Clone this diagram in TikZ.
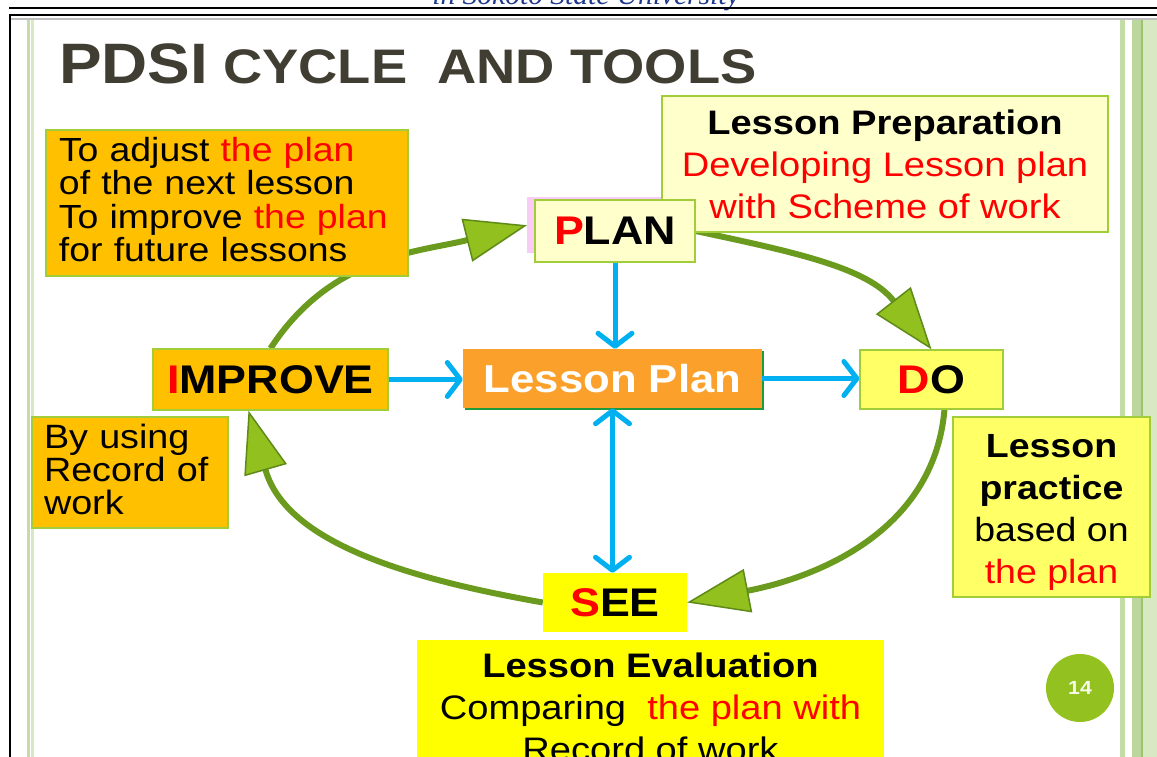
\documentclass[tikz,border=0pt]{standalone}
\usepackage{fontspec}
\setmainfont{Liberation Sans}[FakeStretch=1.12]
\newfontfamily\hdrfont{Liberation Serif}
\usetikzlibrary{arrows.meta,shadows}
\pgfdeclarelayer{bg}
\pgfsetlayers{bg,main}

\definecolor{gold}{HTML}{FFC000}
\definecolor{paleyellow}{HTML}{FFFFCC}
\definecolor{lightyellow}{HTML}{FFFF66}
\definecolor{brightyellow}{HTML}{FFFF00}
\definecolor{boxedge}{HTML}{A2CD3A}
\definecolor{lporange}{HTML}{FBA12B}
\definecolor{lpshadow}{HTML}{1E9B3A}
\definecolor{skyblue}{HTML}{00B0F0}
\definecolor{arcgreen}{HTML}{6B9B1E}
\definecolor{tipgreen}{HTML}{92C01F}
\definecolor{tipedge}{HTML}{5E8A17}
\definecolor{titlegray}{HTML}{403D33}
\definecolor{hdrblue}{HTML}{1F388C}
\definecolor{halopink}{HTML}{F8CCF4}
\definecolor{stripeA}{HTML}{C4DCA5}
\definecolor{stripeB}{HTML}{D7E8C3}
\definecolor{stripeC}{HTML}{BCD79E}
\definecolor{stripeD}{HTML}{9CC46B}
\definecolor{badge}{HTML}{92C120}

\tikzset{
  box/.style={draw=boxedge, line width=1.2pt, inner sep=0pt},
  cyclelabel/.style={font=\fontsize{40}{40}\selectfont\bfseries, inner sep=0pt},
  notebox/.style={box, align=left, inner xsep=13pt},
  cycarrow/.style={line width=6pt, draw=arcgreen,
    -{Triangle[length=62pt,width=44pt,color=tipedge,fill=tipgreen,line width=1.5pt]}},
  bluearrow/.style={draw=skyblue, line width=5pt,
    -{Straight Barb[length=13pt,width=34pt,round]}},
  bluedouble/.style={draw=skyblue, line width=5pt,
    {Straight Barb[length=13pt,width=34pt,round]}-{Straight Barb[length=13pt,width=34pt,round]}}
}

\begin{document}
\begin{tikzpicture}[x=1pt,y=-1pt]
\useasboundingbox (0,0) rectangle (1157,757);
\clip (0,0) rectangle (1157,757);

% page header and frame
\node[anchor=base, inner sep=0pt, font=\hdrfont\itshape\fontsize{29.5}{30}\selectfont, text=hdrblue] (hdr) at (586,5) {in Sokoto State University};
\draw[line width=1.6pt] (9,8) -- (1157,8);
\draw[line width=2.6pt] (9,15) -- (1157,15);
\draw[line width=2.5pt] (10,14) -- (10,757);
\draw[black!25, line width=1.5pt] (11,19) -- (1157,19);
\fill[stripeA] (27,20) rectangle (30,757);
\fill[stripeB] (31,20) rectangle (34,757);
\fill[stripeA] (1120,20) rectangle (1125,757);
\fill[stripeC] (1132,20) rectangle (1141,757);
\fill[stripeD] (1141,20) rectangle (1143,757);
\fill[stripeB] (1143,20) rectangle (1157,757);

% title
\node[anchor=base west, inner sep=0pt, text=titlegray, font=\fontsize{48.5}{50}\selectfont\bfseries] (title) at (59,84)
  {{\fontsize{57}{60}\selectfont PDSI} CYCLE\ \ AND TOOLS};

% cycle stages
\node[fill=halopink, inner sep=0pt, minimum width=153pt, minimum height=56pt, anchor=north west] (planhalo) at (527,197) {};
\node[box, fill=paleyellow, minimum width=446pt, minimum height=136pt, align=center,
      font=\fontsize{34}{42}\selectfont] (prep) at (885,164)
  {\textbf{Lesson Preparation}\\\textcolor{red}{Developing Lesson plan}\\\textcolor{red}{with Scheme of work}};
\node[box, cyclelabel, fill=paleyellow, minimum width=160pt, minimum height=62pt] (plan) at (615,231) {\textcolor{red}{P}LAN};
\node[box, cyclelabel, fill=gold, minimum width=235pt, minimum height=61pt] (improve) at (270.5,379.5) {\textcolor{red}{I}MPROVE};
\node[cyclelabel, fill=lporange, text=white, minimum width=299pt, minimum height=59pt,
      font=\fontsize{39}{40}\selectfont\bfseries,
      general shadow={shadow xshift=2pt, shadow yshift=-2pt, fill=lpshadow}] (lessonplan) at (612.5,378.5) {Lesson Plan};
\node[box, cyclelabel, fill=lightyellow, minimum width=143pt, minimum height=59pt] (do) at (931.5,379.5) {\textcolor{red}{D}O};
\node[cyclelabel, fill=brightyellow, minimum width=144pt, minimum height=59pt] (see) at (615,602.5) {\textcolor{red}{S}EE};

% notes beside the stages
\node[notebox, fill=gold, text width=336pt, minimum height=146pt, font=\fontsize{33.4}{33.3}\selectfont] (adjust) at (227,203)
  {To adjust \textcolor{red}{the plan}\\of the next lesson\\To improve \textcolor{red}{the plan}\\for future lessons\rule[-7pt]{0pt}{7pt}};
\node[notebox, fill=gold, inner xsep=12pt, text width=172pt, minimum height=111pt, font=\fontsize{33.7}{33}\selectfont] (byusing) at (130,472.5)
  {By using\\Record of\\work\rule[-6pt]{0pt}{6pt}};
\node[box, fill=lightyellow, minimum width=197pt, minimum height=180pt, align=center,
      font=\fontsize{33.5}{42}\selectfont] (practice) at (1051.5,507)
  {\rule{0pt}{33pt}\textbf{Lesson}\\\textbf{practice}\\based on\\\textcolor{red}{the plan}};
\node[anchor=north, fill=brightyellow, inner ysep=13pt, minimum width=467pt, align=center,
      font=\fontsize{34}{42}\selectfont] (eval) at (650.5,640)
  {\textbf{Lesson Evaluation}\\Comparing\ \ \textcolor{red}{the plan with}\\Record of work};

% slide number
\node[circle, fill=badge, minimum size=68pt, inner sep=0pt, text=white!92!badge,
      font=\fontsize{19}{19}\selectfont\bfseries] (pagenum) at (1080,688) {14};

% the PDSI cycle
\begin{pgfonlayer}{bg}
\draw[cycarrow] (improve.north) to[out=57,in=194] (planhalo.west);
\draw[cycarrow] (plan.east) to[out=-12,in=128] (do.north);
\draw[cycarrow] ([xshift=13pt]do.south) to[out=-95,in=11] (see.east);
\draw[cycarrow] (see.west) to[out=170,in=-74] ([xshift=-22pt]improve.south);
\end{pgfonlayer}

% links through the lesson plan
\draw[bluearrow] (plan.south) -- (plan.south |- lessonplan.north);
\draw[bluearrow] (improve.east) -- (improve.east -| lessonplan.west);
\draw[bluearrow] (lessonplan.east) -- (lessonplan.east -| do.west);
\draw[bluedouble] (lessonplan.south) -- (lessonplan.south |- see.north);
\end{tikzpicture}
\end{document}
